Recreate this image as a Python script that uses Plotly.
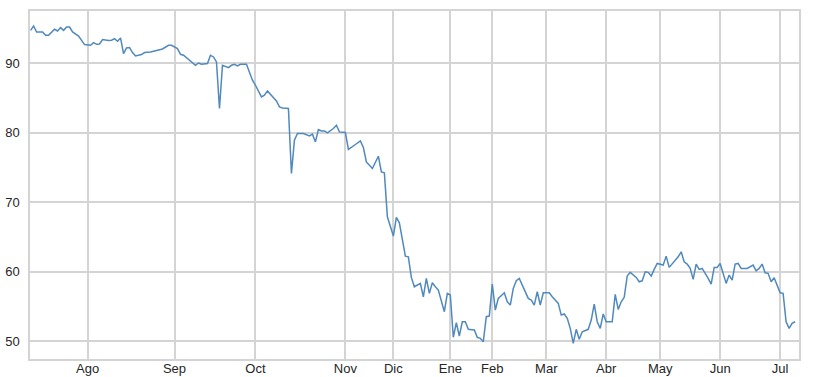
import plotly.graph_objects as go

# trading-day index of each observation
day = [0, 1, 2, 4, 5, 6, 8, 9, 10, 11, 12, 13, 14, 16, 18, 20, 21, 22, 23, 24,
       26, 27, 28, 29, 30, 31, 32, 33, 34, 35, 37, 38, 40, 43, 44,
       46, 47, 49, 50, 51, 53, 55, 56, 57, 59, 60, 61, 62, 63, 64, 66, 67, 68, 69, 70,
       72, 74, 75, 77, 78, 79, 81, 82, 83, 84, 86,
       87, 88, 89, 91, 93, 94, 95, 96, 97, 98, 99, 101, 102, 103, 105, 106, 107, 108,
       110, 111, 112, 114, 116, 117, 118, 119, 121, 122, 123, 125, 126, 127,
       128, 129, 130, 131, 132, 133, 134, 135, 136, 138, 139, 140, 141, 142, 143, 144,
       145, 146, 148, 149, 150, 151, 152, 153, 154, 155, 156, 158, 159, 160, 161, 162,
       163, 164, 166, 167, 168, 169, 170, 171, 173,
       174, 176, 177, 178, 179, 180, 181, 182, 183, 184, 186, 187, 188, 189, 190, 191,
       192, 194, 195, 196, 197, 198, 199, 200, 202, 203, 204, 205, 206, 207, 208, 209,
       211, 212, 213, 214,
       216, 217, 218, 219, 220, 221, 222, 223, 224, 226, 227, 228, 229, 230, 232, 233,
       234, 235, 236, 237, 239, 241, 242, 243, 244, 245, 246, 247, 248, 249, 250, 251,
       252, 253, 254, 255]

value = [94.74, 95.36, 94.50, 94.50, 94.02, 94.02, 94.89, 94.64, 95.13, 94.74, 95.22, 95.22, 94.50, 93.92, 92.69, 92.59, 92.97, 92.73, 92.77, 93.41,
         93.26, 93.31, 93.55, 93.16, 93.64, 91.39, 92.20, 92.26, 91.54, 91.05, 91.25, 91.54, 91.62, 92.00, 92.06,
         92.59, 92.59, 92.11, 91.29, 91.15, 90.43, 89.71, 90.04, 89.86, 89.96, 91.15, 90.91, 90.19, 83.49, 89.71, 89.38, 89.71, 89.86, 89.61, 89.86,
         89.86, 87.56, 86.84, 85.16, 85.40, 86.02, 85.07, 84.58, 83.72, 83.58, 83.49,
         74.15, 78.93, 79.90, 79.90, 79.55, 79.80, 78.69, 80.47, 80.27, 80.27, 79.98, 80.62, 81.09, 80.13, 80.04, 77.60, 77.97, 78.21,
         78.83, 77.88, 75.81, 74.87, 76.63, 74.38, 74.23, 67.91, 65.14, 67.82, 67.05, 62.26, 62.16, 59.20,
         57.85, 58.09, 58.34, 56.41, 59.06, 56.90, 58.42, 57.85, 57.38, 54.26, 56.90, 56.66, 50.58, 52.68, 50.77, 52.82,
         52.82, 51.73, 51.63, 50.58, 50.43, 49.95, 53.54, 53.64, 58.24, 54.50, 56.18, 56.99, 55.69, 55.22, 57.62, 58.71,
         59.06, 58.09, 56.18, 55.94, 55.22, 57.13, 55.22, 56.99, 56.99,
         56.41, 55.46, 53.78, 53.93, 53.31, 51.87, 49.72, 51.73, 50.29, 51.38, 51.73, 53.06, 55.36, 52.82, 51.87, 53.93,
         52.82, 52.82, 56.76, 54.60, 55.69, 56.33, 59.39, 59.92, 59.20, 58.57, 58.71, 60.01, 59.92, 59.39, 60.35, 61.21,
         60.97, 62.26, 60.64, 61.11,
         62.16, 62.88, 61.44, 61.11, 60.49, 58.91, 61.11, 60.35, 60.49, 59.06, 58.24, 60.64, 60.64, 61.21, 58.34, 59.53,
         58.81, 61.11, 61.21, 60.49, 60.49, 60.97, 60.15, 60.49, 61.11, 59.86, 59.78, 58.57, 59.14, 58.09, 56.99, 56.90,
         52.82, 51.87, 52.59, 52.82]

month_pos = [19, 48, 75, 105, 121, 140, 154, 172, 192, 210, 230, 250]
month_lab = ["Ago", "Sep", "Oct", "Nov", "Dic", "Ene", "Feb", "Mar", "Abr", "May", "Jun", "Jul"]
y_ticks = [50, 60, 70, 80, 90]

grid = "#d4d4d4"

fig = go.Figure(go.Scatter(x=day, y=value, mode="lines",
                           line=dict(color="#5089bd", width=1.5),
                           hoverinfo="skip"))

fig.update_layout(
    width=814, height=377,
    margin=dict(l=30, r=15, t=11, b=18),
    paper_bgcolor="white", plot_bgcolor="white",
    showlegend=False,
    font=dict(family="Liberation Sans, Arial, sans-serif", size=13, color="#262626"),
)
fig.update_xaxes(range=[-0.2, 256.3], tickvals=month_pos, ticktext=month_lab,
                 showgrid=True, gridcolor=grid, gridwidth=1.5,
                 showline=True, linecolor=grid, linewidth=1.5, mirror=True,
                 ticks="", ticklabelstandoff=-3, zeroline=False, automargin=False)
fig.update_yaxes(range=[47.46, 97.52], tickvals=y_ticks,
                 showgrid=True, gridcolor=grid, gridwidth=1.5,
                 showline=True, linecolor=grid, linewidth=1.5, mirror=True,
                 ticks="", ticklabelstandoff=6, zeroline=False, automargin=False)

fig.write_html("out.html")
